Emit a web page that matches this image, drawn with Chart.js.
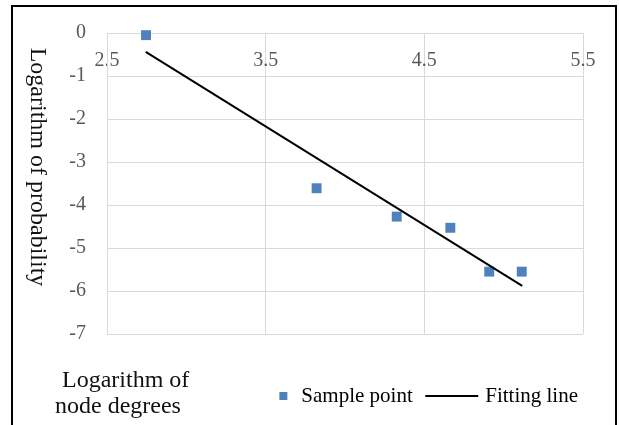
<!DOCTYPE html>
<html>
<head>
<meta charset="utf-8">
<script src="https://cdn.jsdelivr.net/npm/chart.js@4"></script>
<style>
html,body{margin:0;padding:0;background:#fff;}
canvas{display:block;}
</style>
</head>
<body>
<canvas id="c" width="619" height="425"></canvas>
<script>
// ---- data ----
const sampleX = [2.746, 3.821, 4.326, 4.664, 4.909, 5.114];
const sampleY = [-0.05, -3.61, -4.27, -4.53, -5.55, -5.55];
const fitX = [2.744, 5.117];
const fitY = [-0.44, -5.88];
const xTickValues = [2.5, 3.5, 4.5, 5.5];
const yTickValues = [-7, -6, -5, -4, -3, -2, -1, 0];
const seriesNames = ['Sample point', 'Fitting line'];
const xTitleLines = ['Logarithm of', 'node degrees'];
const yTitle = 'Logarithm of probability';

// ---- style ----
const FONT = '"Liberation Serif", "Times New Roman", serif';
const BLUE = '#4F81BD';
const GRID = '#d9d9d9';
const TICK = '#595959';

function squareIcon() {
  const c = document.createElement('canvas');
  c.width = 60; c.height = 10;
  const g = c.getContext('2d');
  g.fillStyle = BLUE;
  g.fillRect(47, 1, 8, 8);
  return c;
}
function lineIcon() {
  const c = document.createElement('canvas');
  c.width = 70; c.height = 4;
  const g = c.getContext('2d');
  g.strokeStyle = '#000'; g.lineWidth = 2;
  g.beginPath(); g.moveTo(14, 2); g.lineTo(67, 2); g.stroke();
  return c;
}
const icons = [squareIcon(), lineIcon()];

const decor = {
  id: 'decor',
  afterDraw(chart) {
    const ctx = chart.ctx;
    ctx.save();
    ctx.strokeStyle = '#000';
    ctx.lineWidth = 2;
    ctx.strokeRect(12, 6, 604, 440);
    ctx.fillStyle = '#111';
    ctx.font = '24px ' + FONT;
    ctx.textAlign = 'left';
    ctx.textBaseline = 'alphabetic';
    ctx.fillText(xTitleLines[0], 62, 387);
    ctx.fillText(xTitleLines[1], 55, 413);
    ctx.translate(37, 167);
    ctx.rotate(Math.PI / 2);
    ctx.textAlign = 'center';
    ctx.textBaseline = 'middle';
    ctx.fillText(yTitle, 0, 0);
    ctx.restore();
  }
};

new Chart(document.getElementById('c'), {
  type: 'scatter',
  data: {
    datasets: [
      {
        label: seriesNames[0],
        data: sampleX.map((x, i) => ({x: x, y: sampleY[i]})),
        pointStyle: 'rect',
        pointRadius: 7,
        pointHoverRadius: 7,
        backgroundColor: BLUE,
        borderColor: BLUE,
        borderWidth: 0,
        showLine: false,
        order: 2,
        clip: false
      },
      {
        label: seriesNames[1],
        data: fitX.map((x, i) => ({x: x, y: fitY[i]})),
        showLine: true,
        pointRadius: 0,
        pointHoverRadius: 0,
        borderColor: '#000',
        backgroundColor: '#000',
        borderWidth: 2,
        fill: false,
        order: 1,
        clip: false
      }
    ]
  },
  options: {
    responsive: false,
    animation: false,
    devicePixelRatio: 1,
    layout: {padding: {left: 0, top: 30, right: 36, bottom: 8.5}},
    scales: {
      x: {
        type: 'linear',
        position: {y: 0},
        min: 2.5,
        max: 5.5,
        afterBuildTicks: s => { s.ticks = xTickValues.map(v => ({value: v})); },
        grid: {color: GRID, lineWidth: 1, drawTicks: false},
        border: {display: true, color: GRID, width: 1},
        ticks: {font: {family: FONT, size: 20}, color: TICK, padding: 16, maxRotation: 0, autoSkip: false}
      },
      y: {
        type: 'linear',
        position: 'left',
        min: -7,
        max: 0,
        afterBuildTicks: s => { s.ticks = yTickValues.map(v => ({value: v})); },
        afterFit: s => { s.width = 107; },
        grid: {color: GRID, lineWidth: 1, drawTicks: false},
        border: {display: true, color: GRID, width: 1},
        ticks: {font: {family: FONT, size: 20}, color: TICK, padding: 21}
      }
    },
    plugins: {
      tooltip: {enabled: false},
      legend: {
        display: true,
        position: 'bottom',
        align: 'end',
        title: {display: true, text: ' ', font: {size: 10}, padding: {top: 34.5, bottom: 0}},
        labels: {
          usePointStyle: true,
          pointStyleWidth: 57,
          padding: 5,
          color: '#000',
          font: {family: FONT, size: 21},
          generateLabels: () => seriesNames.map((name, i) => ({
            text: name,
            pointStyle: icons[i],
            fillStyle: i === 0 ? BLUE : '#000',
            strokeStyle: i === 0 ? BLUE : '#000',
            lineWidth: i === 0 ? 0 : 2,
            fontColor: '#000',
            hidden: false,
            datasetIndex: i
          }))
        }
      }
    }
  },
  plugins: [decor]
});
</script>
</body>
</html>
